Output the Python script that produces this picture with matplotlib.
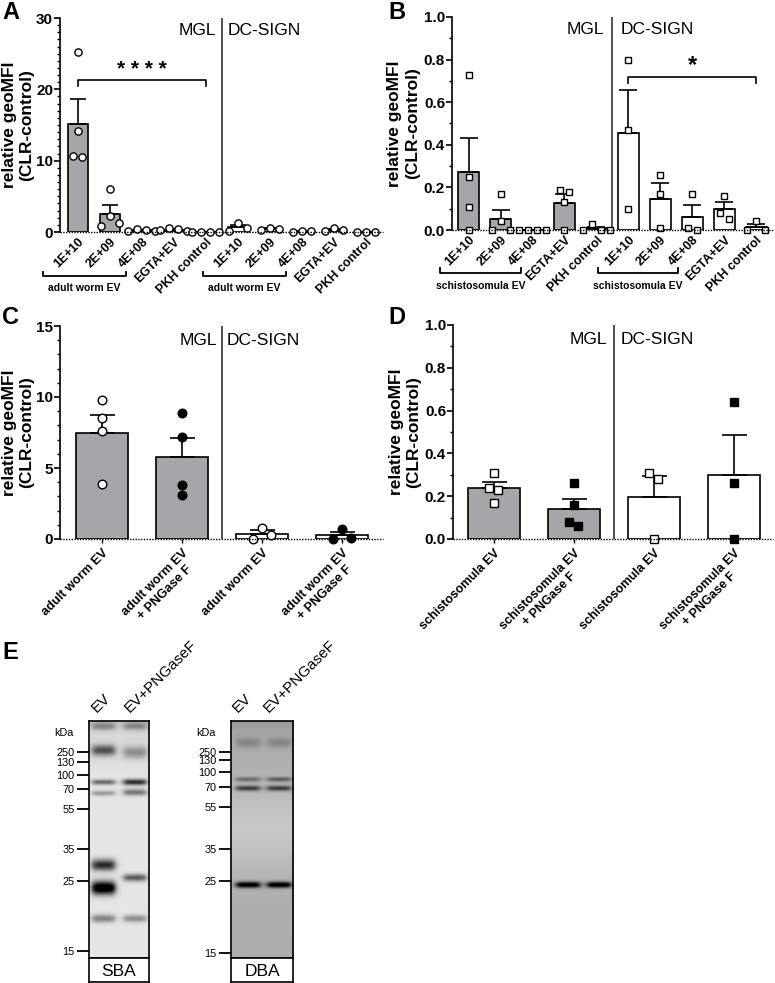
import numpy as np
import matplotlib
matplotlib.use("Agg")
import matplotlib.pyplot as plt
import matplotlib.transforms as mtransforms
from matplotlib.ticker import MultipleLocator, FormatStrFormatter

plt.rcParams['font.family'] = ['Liberation Sans', 'DejaVu Sans']

W, H = 775, 983

# -----------------------------
# Data
# -----------------------------
dose_labels = ["1E+10", "2E+09", "4E+08", "EGTA+EV", "PKH control"]

a_mgl = [[25.3, 14.2, 10.5, 10.6], [6.0, 2.2, 0.9, 1.2], [0.1, 0.4, 0.2, 0.3],
         [0.1, 0.6, 0.3, 0.4], [0.0, 0.0, 0.0, 0.0]]
a_dc = [[1.3, 0.2, 0.6], [0.3, 0.6, 0.4], [0.0, 0.1, 0.1], [0.1, 0.6, 0.3], [0.0, 0.0, 0.0]]

b_mgl = [[0.73, 0.25, 0.11, 0.0], [0.17, 0.04, 0.0, 0.0], [0.0, 0.0, 0.0, 0.0],
         [0.18, 0.19, 0.13, 0.0], [0.03, 0.0, 0.0, 0.0]]
b_dc = [[0.80, 0.47, 0.10], [0.26, 0.17, 0.01], [0.17, 0.0, 0.01], [0.16, 0.05, 0.08], [0.04, 0.0, 0.0]]

c_labels = ["adult worm EV", "adult worm EV\n+ PNGase F"]
c_mgl = [[9.8, 8.5, 7.6, 3.9], [8.9, 7.2, 3.8, 3.1]]
c_dc = [[0.8, 0.0, 0.3], [0.7, 0.0, 0.1]]

d_labels = ["schistosomula EV", "schistosomula EV\n+ PNGase F"]
d_mgl = [[0.31, 0.24, 0.23, 0.17], [0.26, 0.16, 0.08, 0.06]]
d_dc = [[0.31, 0.28, 0.0], [0.64, 0.26, 0.0]]

# blots
kda_labels = ["250", "130", "100", "70", "55", "35", "25", "15"]
sba_marker_pos = [0.131, 0.173, 0.228, 0.287, 0.371, 0.540, 0.675, 0.970]
dba_marker_pos = [0.131, 0.165, 0.215, 0.278, 0.363, 0.540, 0.675, 0.979]
lane_labels = ["EV", "EV+PNGaseF"]
# (position, darkness, thickness) per lane
sba_bands = [
    [(0.02, 0.30, 0.012), (0.122, 0.55, 0.016), (0.257, 0.50, 0.008), (0.304, 0.30, 0.008),
     (0.608, 0.75, 0.017), (0.705, 1.10, 0.020), (0.835, 0.40, 0.012)],
    [(0.02, 0.30, 0.012), (0.131, 0.30, 0.018), (0.257, 0.75, 0.009), (0.300, 0.45, 0.010),
     (0.662, 0.55, 0.011), (0.835, 0.35, 0.011)],
]
dba_bands = [
    [(0.09, 0.15, 0.015), (0.245, 0.30, 0.007), (0.283, 0.50, 0.008), (0.692, 0.80, 0.009)],
    [(0.09, 0.15, 0.015), (0.245, 0.35, 0.007), (0.283, 0.50, 0.008), (0.692, 0.80, 0.009)],
]

GRAY = "#a6a6aa"

fig = plt.figure(figsize=(W / 100, H / 100), dpi=100)


def add_ax(l, t, r, b):
    return fig.add_axes([l / W, 1 - b / H, (r - l) / W, (b - t) / H])


def swarm(vals, ypu, thresh_px=9.0):
    # GraphPad-like spreading of overlapping points (in units of one step)
    vals = np.asarray(vals, float)
    order = np.argsort(-vals, kind="stable")
    groups, cur = [], [order[0]]
    for i in order[1:]:
        if (vals[cur[-1]] - vals[i]) * ypu < thresh_px:
            cur.append(i)
        else:
            groups.append(cur)
            cur = [i]
    groups.append(cur)
    offs = np.zeros(len(vals))
    for g in groups:
        k = len(g)
        if k % 2:
            steps = [0] + [s for j in range(1, k // 2 + 1) for s in (j, -j)]
        else:
            steps = [s for j in range(k // 2) for s in (-(j + 0.5), j + 0.5)]
        for idx, s in zip(g, steps):
            offs[idx] = s
    return offs


def bar_panel(ax, box, values, colors, mfcs, marker, ms, xlim, ylim, width, capsize,
              step_px=9.0):
    xpu = (box[2] - box[0]) / (xlim[1] - xlim[0])
    ypu = (box[3] - box[1]) / (ylim[1] - ylim[0])
    pos = np.arange(len(values))
    for p, v, c, f in zip(pos, values, colors, mfcs):
        v = np.asarray(v, float)
        m = v.mean()
        sem = v.std(ddof=1) / np.sqrt(len(v))
        ax.bar(p, m, width, color=c, edgecolor="black", linewidth=1.2, zorder=2)
        ax.errorbar(p, m, yerr=[[0], [sem]], fmt="none", ecolor="black", elinewidth=1.2,
                    capsize=capsize, capthick=1.2, zorder=3)
        offs = swarm(v, ypu) * step_px / xpu
        ax.plot(p + offs, v, ls="none", marker=marker, ms=ms, mfc=f, mec="black",
                mew=1.0, zorder=4, clip_on=False)
    ax.set_xlim(*xlim)
    ax.set_ylim(*ylim)
    for s in ("top", "right", "bottom"):
        ax.spines[s].set_visible(False)
    ax.spines["left"].set_linewidth(1.2)
    ax.axhline(0, color="black", lw=1.0, ls=(0, (1, 1)), zorder=5, clip_on=False)
    ax.tick_params(axis="y", which="major", length=4, width=1.2, labelsize=11, pad=1)
    ax.tick_params(axis="y", which="minor", length=2.5, width=1.0)
    ax.set_ylabel("relative geoMFI\n(CLR-control)", fontsize=12.5, fontweight="bold",
                  linespacing=1.2)
    return pos


def divider(ax, x, gap, y_text=0.94):
    tr = mtransforms.blended_transform_factory(ax.transData, ax.transAxes)
    ax.plot([x, x], [0, 1], color="#222222", lw=1.1, transform=tr, zorder=1)
    ax.text(x - gap, y_text, "MGL", transform=tr, ha="right", va="center", fontsize=12.5)
    ax.text(x + gap, y_text, "DC-SIGN", transform=tr, ha="left", va="center", fontsize=12.5)


def group_bracket(ax, x0, x1, text, y=-0.205, ytext=-0.26):
    tr = mtransforms.blended_transform_factory(ax.transData, ax.transAxes)
    ax.plot([x0, x0, x1, x1], [y + 0.02, y, y, y + 0.02], color="black", lw=1.3,
            transform=tr, clip_on=False)
    ax.text((x0 + x1) / 2, ytext, text, transform=tr, ha="center", va="center",
            fontsize=7.5, fontweight="bold")


def sig_bracket(ax, x0, x1, y, leg, text, ty, fs):
    ax.plot([x0, x0, x1, x1], [y - leg, y, y, y - leg], color="black", lw=1.2, zorder=3)
    ax.text((x0 + x1) / 2, ty, text, ha="center", va="center", fontsize=fs,
            fontweight="bold")


# -----------------------------
# Panel A
# -----------------------------
boxA = (60, 18, 383, 232)
axA = add_ax(*boxA)
posA = bar_panel(axA, boxA, a_mgl + a_dc, [GRAY] * 5 + ["white"] * 5, ["white"] * 10, "o", 5.2,
                 (-0.56, 9.53), (0, 30), 0.62, 5.5)
axA.yaxis.set_major_locator(MultipleLocator(10))
axA.yaxis.set_minor_locator(MultipleLocator(1))
axA.set_xticks(posA)
axA.set_xticklabels(dose_labels * 2, rotation=45, ha="right", rotation_mode="anchor",
                    fontsize=9.0, fontweight="bold")
axA.tick_params(axis="x", length=0, pad=3)
axA.yaxis.set_label_coords(-0.08, 0.5)
divider(axA, 4.5, 0.17)
group_bracket(axA, -1.1, 1.5, "adult worm EV")
group_bracket(axA, 3.9, 6.5, "adult worm EV")
sig_bracket(axA, 0, 4, 21.3, 0.8, "* * * *", 22.8, 15)

# -----------------------------
# Panel B
# -----------------------------
boxB = (452, 17, 773, 230)
axB = add_ax(*boxB)
posB = bar_panel(axB, boxB, b_mgl + b_dc, [GRAY] * 5 + ["white"] * 5, ["white"] * 10, "s", 5.0,
                 (-0.52, 9.53), (0, 1.0), 0.66, 6.5)
axB.yaxis.set_major_locator(MultipleLocator(0.2))
axB.yaxis.set_minor_locator(MultipleLocator(0.1))
axB.yaxis.set_major_formatter(FormatStrFormatter("%.1f"))
axB.set_xticks(posB)
axB.set_xticklabels(dose_labels * 2, rotation=45, ha="right", rotation_mode="anchor",
                    fontsize=9.0, fontweight="bold")
axB.tick_params(axis="x", length=0, pad=3)
axB.yaxis.set_label_coords(-0.1, 0.5)
divider(axB, 4.5, 0.25)
group_bracket(axB, -0.9, 1.65, "schistosomula EV", y=-0.2, ytext=-0.265)
group_bracket(axB, 4.05, 6.55, "schistosomula EV", y=-0.2, ytext=-0.265)
sig_bracket(axB, 5, 9, 0.72, 0.03, "*", 0.772, 17)

# -----------------------------
# Panel C
# -----------------------------
boxC = (60, 326, 383, 539)
axC = add_ax(*boxC)
posC = bar_panel(axC, boxC, c_mgl + c_dc, [GRAY] * 2 + ["white"] * 2,
                 ["white", "black"] * 2, "o", 6.2, (-0.53, 3.51), (0, 15), 0.65, 9)
axC.yaxis.set_major_locator(MultipleLocator(5))
axC.yaxis.set_minor_locator(MultipleLocator(1))
axC.set_xticks(posC)
axC.set_xticklabels(c_labels * 2, rotation=45, ha="right", rotation_mode="anchor",
                    fontsize=9.2, fontweight="bold", multialignment="center")
axC.tick_params(axis="x", length=3, width=1.0, pad=3)
axC.yaxis.set_label_coords(-0.08, 0.5)
divider(axC, 1.5, 0.06, 0.934)

# -----------------------------
# Panel D
# -----------------------------
boxD = (453, 325, 773, 539)
axD = add_ax(*boxD)
posD = bar_panel(axD, boxD, d_mgl + d_dc, [GRAY] * 2 + ["white"] * 2,
                 ["white", "black"] * 2, "s", 5.6, (-0.51, 3.49), (0, 1.0), 0.65, 9)
axD.yaxis.set_major_locator(MultipleLocator(0.2))
axD.yaxis.set_minor_locator(MultipleLocator(0.1))
axD.yaxis.set_major_formatter(FormatStrFormatter("%.1f"))
axD.set_xticks(posD)
axD.set_xticklabels(d_labels * 2, rotation=45, ha="right", rotation_mode="anchor",
                    fontsize=9.0, fontweight="bold", multialignment="center")
axD.tick_params(axis="x", length=3, width=1.0, pad=3)
axD.yaxis.set_label_coords(-0.1, 0.5)
divider(axD, 1.5, 0.08, 0.934)

for ax in (axA, axB, axC, axD):
    for t in ax.get_yticklabels():
        t.set_fontweight("bold")


# -----------------------------
# Panel E: blots
# -----------------------------
def blot_image(bands, lane_centers, bg, ny=240, nx=64):
    y = np.linspace(0, 1, ny)[:, None]
    x = np.linspace(0, 1, nx)[None, :]
    img = bg(y) * np.ones((ny, nx))
    for lc, lane_bands in zip(lane_centers, bands):
        lane = 1 / (1 + np.exp((np.abs(x - lc) - 0.19) / 0.03))
        for p, dark, thick in lane_bands:
            img = img - dark * lane * np.exp(-0.5 * ((y - p) / thick) ** 2)
    return np.clip(img, 0, 1)


def blot(l, t, r, b, bands, lane_centers, bg, marker_pos, name, lab_x):
    ax = add_ax(l, t, r, b)
    ax.imshow(blot_image(bands, lane_centers, bg), cmap="gray", vmin=0, vmax=1,
              extent=(0, 1, 1, 0), aspect="auto", interpolation="bilinear")
    ax.set_xlim(0, 1)
    ax.set_ylim(1, 0)
    ax.set_xticks([])
    ax.set_yticks(marker_pos)
    ax.set_yticklabels(kda_labels, fontsize=7.8)
    ax.tick_params(axis="y", length=9, width=1.3, pad=1.5)
    for s in ax.spines.values():
        s.set_linewidth(1.2)
    ax.text(-0.25, 0.95, "kDa", transform=ax.transAxes, ha="right", va="center", fontsize=7.8)
    for xl, txt in zip(lab_x, lane_labels):
        ax.text(xl, 1.025, txt, transform=ax.transAxes, rotation=45, rotation_mode="anchor",
                ha="left", va="bottom", fontsize=11)
    lab = add_ax(l, b, r, 982)
    lab.set_xticks([])
    lab.set_yticks([])
    for s in lab.spines.values():
        s.set_linewidth(1.2)
    lab.text(0.5, 0.45, name, ha="center", va="center", fontsize=12.5, transform=lab.transAxes)


blot(89, 721, 149, 958, sba_bands, [0.24, 0.77],
     lambda y: 0.90 - 0.12 * np.exp(-y / 0.06) - 0.04 * np.exp(-((y - 0.13) / 0.06) ** 2),
     sba_marker_pos, "SBA", [0.17, 0.71])
blot(231, 721, 293, 958, dba_bands, [0.27, 0.77],
     lambda y: 0.68 + 0.10 * np.exp(-((y - 0.45) / 0.18) ** 2) - 0.08 * np.exp(-y / 0.05),
     dba_marker_pos, "DBA", [0.14, 0.65])

# panel letters
for letter, x, y in [("A", 2, 1), ("B", 388, 1), ("C", 2, 306), ("D", 388, 306), ("E", 2, 641)]:
    fig.text(x / W, 1 - y / H, letter, ha="left", va="top", fontsize=17, fontweight="bold")

fig.savefig("out.png", dpi=100)
plt.close(fig)
